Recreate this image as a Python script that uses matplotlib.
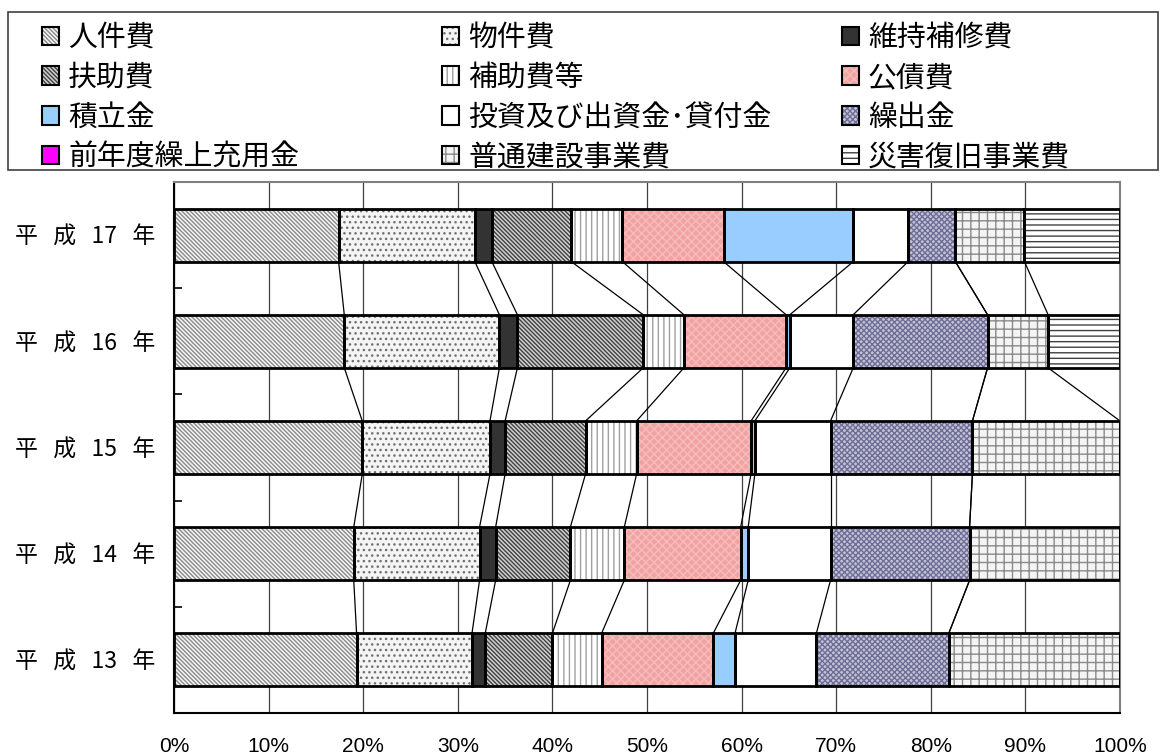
import numpy as np
import matplotlib
matplotlib.use('Agg')
import matplotlib.pyplot as plt
from matplotlib.patches import Patch, Rectangle

plt.rcParams['font.family'] = ['Noto Sans CJK JP', 'DejaVu Sans']
plt.rcParams['hatch.linewidth'] = 1.0

# 年度 (下から上へ)
years = ['平   成   13   年', '平   成   14   年', '平   成   15   年',
         '平   成   16   年', '平   成   17   年']
items = ['人件費', '物件費', '維持補修費', '扶助費', '補助費等', '公債費', '積立金',
         '投資及び出資金･貸付金', '繰出金', '前年度繰上充用金', '普通建設事業費',
         '災害復旧事業費']

# 構成比 (%)
h13 = [19.3, 12.2, 1.4, 7.1, 5.2, 11.8, 2.3, 8.6, 14.0, 0, 18.1, 0]
h14 = [19.0, 13.3, 1.7, 7.9, 5.7, 12.3, 0.8, 8.7, 14.7, 0, 15.9, 0]
h15 = [19.9, 13.5, 1.6, 8.5, 5.4, 12.1, 0.4, 8.0, 15.0, 0, 15.6, 0]
h16 = [18.0, 16.4, 1.9, 13.3, 4.3, 10.8, 0.4, 6.7, 14.2, 0, 6.4, 7.6]
h17 = [17.4, 14.4, 1.8, 8.4, 5.4, 10.7, 13.7, 5.8, 5.0, 0, 7.3, 10.1]

xticks = [0, 10, 20, 30, 40, 50, 60, 70, 80, 90, 100]

# styles
faces = ['#f6f6f6', '#f4f4f4', '#333333', '#d0d0d0', 'white', '#f2a2a2', '#99ccff',
         'white', '#c4c4d8', '#ff00ff', '#f4f4f4', 'white']
hatch_colors = ['#8a8a8a', '#707070', '#333333', '#404040', '#a0a0a0', '#f7bcbc', '#99ccff',
                'white', '#6e6e96', '#ff00ff', '#8a8a8a', '#404040']
hatches = ['\\' * 8, '...', None, '\\' * 8, '|||', 'xxxx', None,
           None, 'xxxxxx', None, '++', '---']

data = np.array([h13, h14, h15, h16, h17])
ypos = np.arange(len(years))

fig = plt.figure(figsize=(11.6, 7.56), dpi=100)
ax = fig.add_axes([174/1160, 1-713/756, (1120-174)/1160, (713-182)/756])

left = np.zeros(len(years))
for k in range(len(items)):
    w = data[:, k]
    ax.barh(ypos, w, left=left, height=0.5, color=faces[k], edgecolor=hatch_colors[k],
            hatch=hatches[k], linewidth=0, zorder=2)
    ax.barh(ypos, w, left=left, height=0.5, fill=False, edgecolor='black',
            linewidth=2, zorder=3)
    left = left + w

# 区分線
cum = np.cumsum(data, axis=1)
for i in range(len(years) - 1):
    for k in range(len(items) - 1):
        ax.plot([cum[i, k], cum[i + 1, k]], [ypos[i] + 0.25, ypos[i + 1] - 0.25],
                color='black', lw=0.9, zorder=2.5)

ax.set_xlim(0, 100)
ax.set_ylim(-0.5, len(years) - 0.5)
ax.set_xticks(xticks, [f'{v}%' for v in xticks])
for lab in ax.get_xticklabels():
    lab.set_fontfamily('Liberation Sans')
ax.xaxis.grid(True, color='#404040', lw=0.9)
ax.set_axisbelow(True)
ax.tick_params(axis='x', length=0, pad=17, labelsize=15)
ax.set_yticks(ypos, years)
ax.tick_params(axis='y', which='major', length=0, pad=13.5, labelsize=16.5)
ax.set_yticks(np.arange(-0.5, len(years), 1), minor=True)
ax.tick_params(axis='y', which='minor', direction='in', length=6, width=1.2)
for s in ['left', 'bottom']:
    ax.spines[s].set_color('black')
    ax.spines[s].set_linewidth(1.5)
for s in ['top', 'right']:
    ax.spines[s].set_color('#808080')
    ax.spines[s].set_linewidth(1.5)

# 凡例
handles = [(Patch(facecolor=faces[k], edgecolor=hatch_colors[k], hatch=hatches[k], lw=0),
            Patch(facecolor='none', edgecolor='black', lw=1.5)) for k in range(len(items))]
for j, x0 in enumerate([42, 442, 842]):
    idx = list(range(j, len(items), 3))
    leg = fig.legend([handles[k] for k in idx], [items[k] for k in idx],
                     loc='upper left', bbox_to_anchor=(x0/1160, 1-23/756),
                     frameon=False, fontsize=20.8, handlelength=0.6, handleheight=0.6,
                     handletextpad=0.3, labelspacing=0.34, borderpad=0, borderaxespad=0)
fig.add_artist(Rectangle((8/1160, 1-170/756), 1150/1160, 158/756, transform=fig.transFigure,
                         fill=False, edgecolor='#404040', lw=1.2))

fig.savefig('out.png', dpi=100)
